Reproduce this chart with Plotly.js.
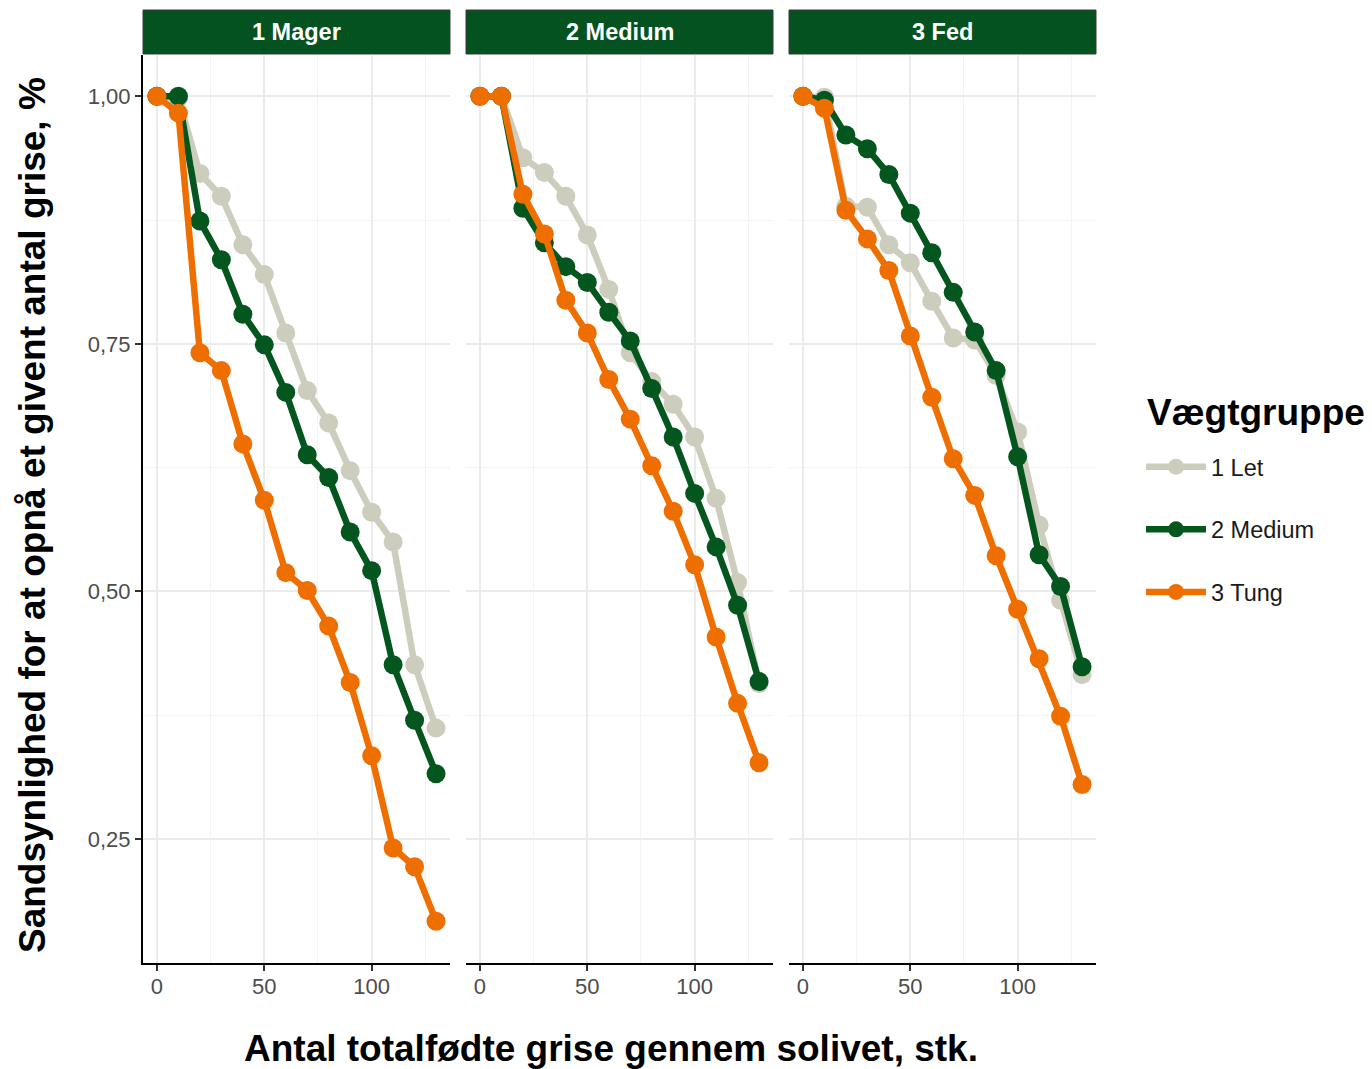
<!DOCTYPE html>
<html>
<head>
<meta charset="utf-8">
<script src="https://cdn.plot.ly/plotly-3.0.1.min.js"></script>
<style>html,body{margin:0;padding:0;background:#fff;}#chart{width:1372px;height:1069px;}</style>
</head>
<body>
<div id="chart"></div>
<script>
// ---- data ----
const xVals = [0, 10, 20, 30, 40, 50, 60, 70, 80, 90, 100, 110, 120, 130];
const panels = ["1 Mager", "2 Medium", "3 Fed"];
const groups = ["1 Let", "2 Medium", "3 Tung"];

const magerLet    = [1.000, 0.998, 0.922, 0.899, 0.850, 0.820, 0.761, 0.703, 0.670, 0.622, 0.580, 0.550, 0.426, 0.362];
const magerMedium = [1.000, 1.000, 0.874, 0.835, 0.780, 0.749, 0.701, 0.638, 0.615, 0.560, 0.521, 0.426, 0.370, 0.316];
const magerTung   = [1.000, 0.983, 0.741, 0.723, 0.649, 0.592, 0.519, 0.501, 0.465, 0.408, 0.334, 0.241, 0.222, 0.167];

const mediumLet    = [1.000, 1.000, 0.938, 0.923, 0.899, 0.860, 0.805, 0.741, 0.712, 0.689, 0.656, 0.594, 0.509, 0.407];
const mediumMedium = [1.000, 1.000, 0.887, 0.852, 0.828, 0.812, 0.782, 0.753, 0.705, 0.656, 0.599, 0.545, 0.486, 0.409];
const mediumTung   = [1.000, 1.000, 0.901, 0.861, 0.794, 0.761, 0.714, 0.674, 0.627, 0.581, 0.527, 0.454, 0.387, 0.327];

const fedLet    = [1.000, 0.999, 0.889, 0.888, 0.850, 0.832, 0.793, 0.756, 0.754, 0.718, 0.661, 0.567, 0.491, 0.416];
const fedMedium = [1.000, 0.996, 0.961, 0.947, 0.921, 0.882, 0.842, 0.802, 0.762, 0.723, 0.636, 0.537, 0.505, 0.424];
const fedTung   = [1.000, 0.988, 0.885, 0.856, 0.824, 0.758, 0.696, 0.634, 0.597, 0.536, 0.482, 0.432, 0.374, 0.305];

const yTickVals = [0.25, 0.50, 0.75, 1.00];
const yTickText = ["0,25", "0,50", "0,75", "1,00"];
const xTickVals = [0, 50, 100];
const xTickText = ["0", "50", "100"];

const yTitle = "Sandsynlighed for at opnå et givent antal grise, %";
const xTitle = "Antal totalfødte grise gennem solivet, stk.";
const legendTitle = "Vægtgruppe";

// ---- styling ----
const colors = ["#CDCDBE", "#04561F", "#EE6E00"];
const W = 1372, H = 1069;
const FONT = "Liberation Sans, Arial, sans-serif";
const seriesByPanel = [
  [magerLet, magerMedium, magerTung],
  [mediumLet, mediumMedium, mediumTung],
  [fedLet, fedMedium, fedTung]
];
const panelPx = [[143, 450], [466, 773], [789, 1096]];
const panelTop = 55, panelBottom = 963;
const stripTop = 10, stripBottom = 54;

const traces = [];
seriesByPanel.forEach((ser, p) => {
  ser.forEach((vals, g) => {
    traces.push({
      type: "scatter", mode: "lines+markers",
      x: xVals, y: vals,
      name: groups[g],
      legendgroup: groups[g],
      showlegend: p === 0,
      xaxis: p === 0 ? "x" : "x" + (p + 1),
      yaxis: p === 0 ? "y" : "y" + (p + 1),
      line: {color: colors[g], width: 6.5},
      marker: {color: colors[g], size: 19},
      hoverinfo: "x+y+name"
    });
  });
});

const layout = {
  width: W, height: H,
  margin: {l: 0, r: 0, t: 0, b: 0},
  paper_bgcolor: "#ffffff", plot_bgcolor: "#ffffff",
  font: {family: FONT, color: "#000"},
  showlegend: true,
  legend: {
    x: 1141 / W, xanchor: "left", y: 1 - 445 / H, yanchor: "top",
    font: {size: 23.5, family: FONT, color: "#1a1a1a"},
    tracegroupgap: 29,
    itemwidth: 60,
    bgcolor: "rgba(0,0,0,0)"
  },
  shapes: [],
  annotations: []
};

panelPx.forEach((px, p) => {
  const sfx = p === 0 ? "" : String(p + 1);
  const dom = [px[0] / W, px[1] / W];
  layout["xaxis" + sfx] = {
    domain: dom, range: [-6.5, 136.5], anchor: "y" + sfx,
    tickmode: "array", tickvals: xTickVals, ticktext: xTickText,
    showgrid: true, gridcolor: "#EBEBEB", gridwidth: 2,
    minor: {tickmode: "array", tickvals: [25, 75, 125], showgrid: true, gridcolor: "#F3F3F3", gridwidth: 1, ticks: ""},
    zeroline: false,
    showline: true, linecolor: "#000", linewidth: 2,
    ticks: "outside", ticklen: 6, tickwidth: 2, tickcolor: "#333",
    ticklabelstandoff: -3,
    tickfont: {size: 22, color: "#4D4D4D", family: FONT},
    fixedrange: true
  };
  layout["yaxis" + sfx] = {
    domain: [1 - panelBottom / H, 1 - panelTop / H], range: [0.1248, 1.0417], anchor: "x" + sfx,
    tickmode: "array", tickvals: yTickVals, ticktext: yTickText,
    showticklabels: p === 0,
    showgrid: true, gridcolor: "#EBEBEB", gridwidth: 2,
    minor: {tickmode: "array", tickvals: [0.375, 0.625, 0.875], showgrid: true, gridcolor: "#F3F3F3", gridwidth: 1, ticks: ""},
    zeroline: false,
    showline: p === 0, linecolor: "#000", linewidth: 2,
    ticks: p === 0 ? "outside" : "", ticklen: 6, tickwidth: 2, tickcolor: "#333",
    tickfont: {size: 22, color: "#4D4D4D", family: FONT},
    fixedrange: true
  };
  // strip header
  layout.shapes.push({
    type: "rect", xref: "paper", yref: "paper",
    x0: px[0] / W, x1: px[1] / W, y0: 1 - stripBottom / H, y1: 1 - stripTop / H,
    fillcolor: "#04521F", line: {color: "#3a3a3a", width: 1}, layer: "above"
  });
  layout.annotations.push({
    xref: "paper", yref: "paper",
    x: (px[0] + px[1]) / 2 / W, y: 1 - (stripTop + stripBottom) / 2 / H,
    xanchor: "center", yanchor: "middle", showarrow: false,
    text: "<b>" + panels[p] + "</b>",
    font: {size: 23.5, color: "#ffffff", family: FONT}
  });
});

// legend title
layout.annotations.push({
  xref: "paper", yref: "paper", x: 1145 / W, y: 1 - 412 / H,
  xanchor: "left", yanchor: "middle", showarrow: false,
  text: "<b>" + legendTitle + "</b>", font: {size: 37, color: "#000", family: FONT}
});
// axis titles
layout.annotations.push({
  xref: "paper", yref: "paper", x: 611 / W, y: 1 - 1048 / H,
  xanchor: "center", yanchor: "middle", showarrow: false,
  text: "<b>" + xTitle + "</b>", font: {size: 37, color: "#000", family: FONT}
});
layout.annotations.push({
  xref: "paper", yref: "paper", x: 33 / W, y: 1 - 515 / H,
  xanchor: "center", yanchor: "middle", showarrow: false, textangle: -90,
  text: "<b>" + yTitle + "</b>", font: {size: 37, color: "#000", family: FONT}
});

Plotly.newPlot("chart", traces, layout, {displayModeBar: false, staticPlot: true});
</script>
</body>
</html>
